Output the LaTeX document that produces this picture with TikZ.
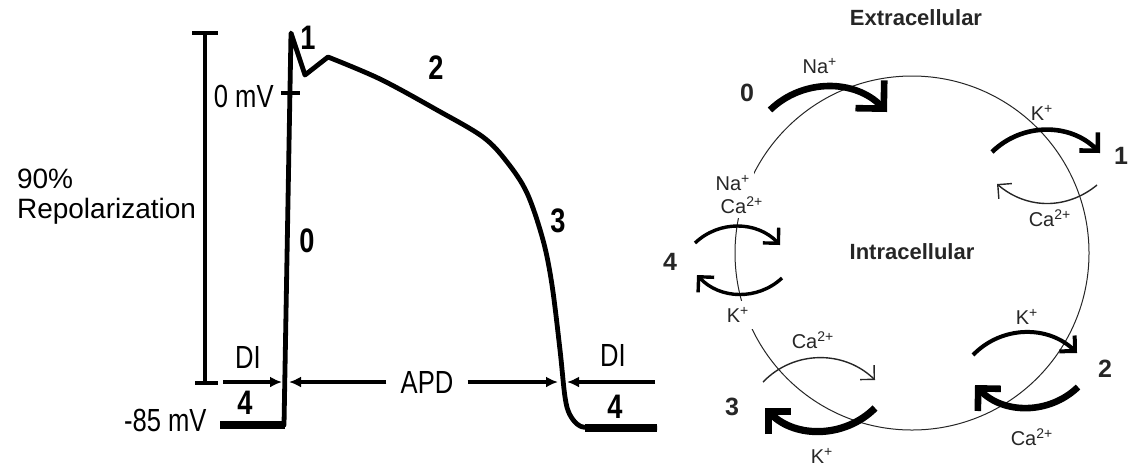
\documentclass[tikz,border=0pt]{standalone}
\usepackage{fontspec}
\setmainfont{Liberation Sans}
\newfontfamily\narrowfont[FakeStretch=0.8]{Liberation Sans}
\usepackage{xcolor}
\usepackage{tikz}
\usetikzlibrary{arrows.meta, positioning}
\definecolor{ink}{HTML}{262626}

\begin{document}
\begin{tikzpicture}[x=0.5pt, y=-0.5pt,
        tag/.style={font=\narrowfont\fontsize{16}{16}\selectfont, inner sep=1pt},
        num/.style={font=\narrowfont\bfseries\fontsize{17}{17}\selectfont, inner sep=1pt},
        ion/.style={font=\fontsize{10}{10}\selectfont, text=ink, inner sep=1pt},
        phase/.style={font=\bfseries\fontsize{12.5}{12.5}\selectfont, text=ink, inner sep=1pt},
        region/.style={font=\bfseries\fontsize{11}{11}\selectfont, text=ink},
        ap/.style={line width=2.4pt, line join=round},
        span/.style={line width=2pt, -{Latex[length=6pt,width=5.5pt]}},
        fluxthin/.style={line width=0.7pt, draw=ink, -{Straight Barb[length=5pt,width=10pt]}},
        fluxmid/.style={line width=1.7pt, -{Straight Barb[length=5.5pt,width=11pt]}},
        fluxbold/.style={line width=3.3pt, -{Straight Barb[length=8pt,width=16pt]}}
    ]
        \useasboundingbox (0,0) rectangle (1133,468);

        % Action potential
        \draw[ap] (220,425) -- (284,425) -- (291,33) -- (305,75) -- (328,57)
            -- plot[smooth, tension=0.55] coordinates {(328,57) (380,79) (437,110) (483,137) (507,162) (527,193) (543,240) (552,285) (560,350) (565,397) (570,415) (580,426) (595,428)}
            -- (657,428);
        \draw[line width=3.6pt] (220,425) -- (285,425);
        \draw[line width=3.6pt] (585,428) -- (657,428);

        % Scale bar and 0 mV tick
        \draw[line width=1.6pt] (192,33) -- (218,33) (205,33) -- (205,383) (195,383) -- (218,383);
        \draw[line width=1.8pt] (281,93) -- (300,93);

        % Labels
        \node[font=\fontsize{14}{15}\selectfont, align=left, anchor=west] (repol) at (10,197) {90\%\\Repolarization};
        \node[tag, anchor=east] (v0) at (276,96) {0 mV};
        \node[tag, anchor=east] (v85) at (209,420) {-85 mV};
        \node[num] (p1) at (308,38) {1};
        \node[num] (p2) at (436,68) {2};
        \node[num] (p3) at (558,221) {3};
        \node[num] (p0) at (307,241) {0};
        \node[num] (p4a) at (245,403) {4};
        \node[num] (p4b) at (615,407) {4};
        \node[tag] (dia) at (248,357) {DI};
        \node[tag] (dib) at (613,355) {DI};
        \node[tag, fill=white, inner xsep=7pt] (apd) at (427,382) {APD};

        % Duration arrows
        \coordinate (dil) at (223,382);
        \coordinate (foot) at (282,382);
        \coordinate (apdl) at (289,382);
        \coordinate (apdr) at (558,382);
        \coordinate (rep) at (567,382);
        \coordinate (dir) at (655,382);
        \draw[span] (dil) -- (foot);
        \draw[span] (apd.west) -- (apdl);
        \draw[span] (apd.east) -- (apdr);
        \draw[span] (dir) -- (rep);

        % Membrane
        \draw[line width=0.5pt, draw=ink] (912,253) circle[radius=177];
        \node[region] (ext) at (916,18) {Extracellular};
        \node[region] (int) at (912,252) {Intracellular};

        % Phase 0
        \node[phase] (r0) at (747,93) {0};
        \node[ion] (na0) at (820,66) {Na\textsuperscript{+}};
        \draw[fluxbold, -{Straight Barb[length=10pt,width=20pt]}] (770,110) to[bend left=45] (887,112);

        % Phase 1
        \node[phase] (r1) at (1121,156) {1};
        \node[ion] (k1) at (1042,113) {K\textsuperscript{+}};
        \node[ion] (ca1) at (1050,218) {Ca\textsuperscript{2+}};
        \draw[fluxmid, line width=2.3pt, -{Straight Barb[length=6.5pt,width=13pt]}] (992,152) to[bend left=45] (1100,153);
        \draw[fluxthin] (1097,185) to[bend left=40] (997,184);

        % Phase 2
        \node[phase] (r2) at (1105,369) {2};
        \node[ion] (k2) at (1027,317) {K\textsuperscript{+}};
        \node[ion] (ca2) at (1032,437) {Ca\textsuperscript{2+}};
        \draw[fluxmid, line width=2pt] (973,355) to[bend left=45] (1077,353);
        \draw[fluxbold] (1078,387) to[bend left=45] (975,385);

        % Phase 3
        \node[phase] (r3) at (732,407) {3};
        \node[ion] (ca3) at (813,340) {Ca\textsuperscript{2+}};
        \node[ion] (k3) at (822,456) {K\textsuperscript{+}};
        \draw[fluxthin] (763,382) to[bend left=45] (875,380);
        \draw[fluxbold, line width=3.6pt] (875,408) to[bend left=45] (765,408);

        % Phase 4
        \node[phase] (r4) at (670,262) {4};
        \node[ion, fill=white, inner sep=2pt] (na4) at (733,183) {Na\textsuperscript{+}};
        \node[ion, fill=white, inner sep=2pt] (ca4) at (742,205) {Ca\textsuperscript{2+}};
        \node[ion, fill=white, inner sep=3pt] (k4) at (738,315) {K\textsuperscript{+}};
        \draw[fluxmid] (695,243) to[bend left=45] (780,245);
        \draw[fluxmid] (782,278) to[bend left=45] (697,275);

    \end{tikzpicture}
\end{document}
